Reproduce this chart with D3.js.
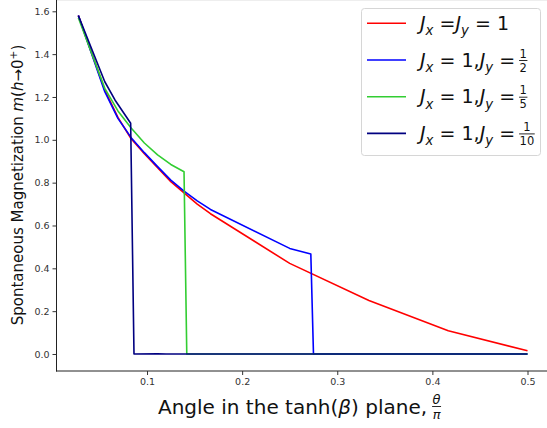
<!DOCTYPE html>
<html>
<head>
<meta charset="utf-8">
<script src="https://cdn.jsdelivr.net/npm/d3@7"></script>
<style>
  body { margin: 0; background: #fff; }
  svg { display: block; }
  text { font-family: "DejaVu Sans", sans-serif; white-space: pre; }
</style>
</head>
<body>
<div class="chart-area"></div>
<script>
const svgWidth = 547
const svgHeight = 428

// tick values
const xTicks = [0.1, 0.2, 0.3, 0.4, 0.5]
const yTicks = [0.0, 0.2, 0.4, 0.6, 0.8, 1.0, 1.2, 1.4, 1.6]

// Jx = Jy = 1
const thetaEq = [0.0278, 0.0556, 0.0694, 0.0833, 0.0972, 0.1111, 0.125, 0.1389, 0.1528, 0.1667, 0.25, 0.3333, 0.4167, 0.5]
const magEq = [1.58, 1.232, 1.105, 1.005, 0.935, 0.87, 0.805, 0.752, 0.70, 0.655, 0.423, 0.25, 0.109, 0.015]

// Jx = 1, Jy = 1/2
const thetaHalf = [0.0278, 0.0556, 0.0694, 0.0833, 0.0972, 0.1111, 0.125, 0.1389, 0.1528, 0.1667, 0.25, 0.2722, 0.275, 0.5]
const magHalf = [1.58, 1.225, 1.10, 1.01, 0.94, 0.875, 0.812, 0.76, 0.715, 0.675, 0.493, 0.467, 0.0, 0.0]

// Jx = 1, Jy = 1/5
const thetaFifth = [0.0278, 0.0556, 0.0694, 0.0833, 0.0972, 0.1111, 0.125, 0.1389, 0.1418, 0.5]
const magFifth = [1.57, 1.24, 1.135, 1.055, 0.985, 0.93, 0.885, 0.851, 0.0, 0.0]

// Jx = 1, Jy = 1/10
const thetaTenth = [0.0278, 0.0556, 0.0663, 0.0828, 0.0863, 0.1111, 0.12, 0.5]
const magTenth = [1.58, 1.271, 1.186, 1.077, 0.0, 0.0015, 0.0, 0.0]

const seriesColors = ['#ff0000', '#0000ff', '#32cd32', '#000080']
const jyDenominators = [null, '2', '5', '10']

const series = [
  { theta: thetaEq, mag: magEq },
  { theta: thetaHalf, mag: magHalf },
  { theta: thetaFifth, mag: magFifth },
  { theta: thetaTenth, mag: magTenth },
]

var svg = d3.select('.chart-area')
  .append('svg')
  .attr('xmlns', 'http://www.w3.org/2000/svg')
  .attr('width', svgWidth)
  .attr('height', svgHeight)

// axes box: left spine 56, bottom spine 371 (the top/right are cut off)
var x = d3.scaleLinear().domain([0.0042, 0.5236]).range([55.9, 549.95])
var y = d3.scaleLinear().domain([-0.079, 1.659]).range([370.92, -1.34])

svg.append('line')
  .attr('x1', 56).attr('x2', svgWidth).attr('y1', 0.5).attr('y2', 0.5)
  .attr('stroke', '#eeeeee')

var line = d3.line()
  .x(d => x(d[0]))
  .y(d => y(d[1]))

var plot = svg.append('g')
series.forEach((s, i) => {
  plot.append('path')
    .datum(s.theta.map((t, k) => [t, s.mag[k]]))
    .attr('d', line)
    .attr('fill', 'none')
    .attr('stroke', seriesColors[i])
    .attr('stroke-width', 1.6)
    .attr('stroke-linejoin', 'round')
})

var xAxis = svg.append('g')
  .attr('transform', 'translate(0,' + 371 + ')')
  .call(d3.axisBottom(x).tickValues(xTicks).tickFormat(d3.format('.1f')).tickSize(4).tickSizeOuter(0).tickPadding(3))
var yAxis = svg.append('g')
  .attr('transform', 'translate(' + 56.5 + ',0)')
  .call(d3.axisLeft(y).tickValues(yTicks).tickFormat(d3.format('.1f')).tickSize(4).tickSizeOuter(0).tickPadding(3))

;[xAxis, yAxis].forEach(a => {
  a.select('.domain').attr('stroke', '#222').attr('stroke-width', 1)
  a.selectAll('.tick line').attr('stroke', '#333')
  a.selectAll('.tick text')
    .attr('fill', '#333')
    .style('font-family', '"DejaVu Sans", sans-serif')
    .style('font-size', '9.5px')
})
xAxis.select('.domain').attr('d', 'M56,0H' + svgWidth)
yAxis.select('.domain').attr('d', 'M0,371.5V0')

// writes pieces of math text as tspans; returns the text node
function mathText(parent, px, py, parts, size) {
  var t = parent.append('text')
    .attr('x', px).attr('y', py)
    .style('font-size', size + 'px')
    .attr('fill', '#111')
  var shift = 0
  parts.forEach(p => {
    var target = p.sub ? 0.28 * size : (p.sup ? -0.4 * size : 0)
    var ts = t.append('tspan').text(p.t)
    if (target !== shift) {
      ts.attr('dy', target - shift)
      shift = target
    }
    if (p.sub || p.sup) ts.style('font-size', (size * 0.7) + 'px')
    if (p.i) ts.style('font-style', 'italic')
  })
  return t
}

// stacked fraction whose left edge sits at left
function fraction(parent, left, barY, num, den, size, italic) {
  var g = parent.append('g')
  var n = g.append('text').attr('y', barY - 3)
    .attr('text-anchor', 'middle').style('font-size', size + 'px').attr('fill', '#111').text(num)
  var d = g.append('text').attr('y', barY + size * 0.97)
    .attr('text-anchor', 'middle').style('font-size', size + 'px').attr('fill', '#111').text(den)
  if (italic) { n.style('font-style', 'italic'); d.style('font-style', 'italic') }
  var w = Math.max(n.node().getComputedTextLength(), d.node().getComputedTextLength())
  var cx = left + w / 2 + 0.5
  n.attr('x', cx)
  d.attr('x', cx)
  g.append('line')
    .attr('x1', cx - w / 2 - 0.5).attr('x2', cx + w / 2 + 0.5)
    .attr('y1', barY).attr('y2', barY)
    .attr('stroke', '#111').attr('stroke-width', 0.9)
}

// x label
var xl = mathText(svg, 158, 413.5, [
  { t: 'Angle in the tanh(' }, { t: 'β', i: true }, { t: ') plane,' }
], 20)
var xlEnd = 158 + xl.node().getComputedTextLength()
fraction(svg, xlEnd + 5, 406.5, 'θ', 'π', 13, true)

// y label
var yl = svg.append('g').attr('transform', 'translate(23,185) rotate(-90)')
mathText(yl, 0, 0, [
  { t: 'Spontaneous Magnetization ' }, { t: 'm', i: true }, { t: '(' }, { t: 'h', i: true },
  { t: '→0' }, { t: '+', sup: true }, { t: ')' }
], 15).attr('text-anchor', 'middle')

// legend
var legend = svg.append('g')
legend.append('rect')
  .attr('x', 361.5).attr('y', 8.5)
  .attr('width', 179).attr('height', 147)
  .attr('rx', 3)
  .attr('fill', '#fff').attr('fill-opacity', 0.8)
  .attr('stroke', '#d6d6d6')

seriesColors.forEach((c, i) => {
  var ly = 23.3 + i * 36.7
  legend.append('line')
    .attr('x1', 367).attr('x2', 406)
    .attr('y1', ly).attr('y2', ly)
    .attr('stroke', c).attr('stroke-width', 1.6)
  var parts
  if (jyDenominators[i] === null) {
    parts = [{ t: 'J', i: true }, { t: 'x', i: true, sub: true }, { t: ' =' },
      { t: 'J', i: true }, { t: 'y', i: true, sub: true }, { t: ' = 1' }]
  } else {
    parts = [{ t: 'J', i: true }, { t: 'x', i: true, sub: true }, { t: ' = 1,' },
      { t: 'J', i: true }, { t: 'y', i: true, sub: true }, { t: ' =' }]
  }
  var lt = mathText(legend, 420, ly + 6.7, parts, 19)
  if (jyDenominators[i] !== null) {
    var end = 420 + lt.node().getComputedTextLength()
    fraction(legend, end + 4, ly + 0.5, '1', jyDenominators[i], 11.5, false)
  }
})
</script>
</body>
</html>
